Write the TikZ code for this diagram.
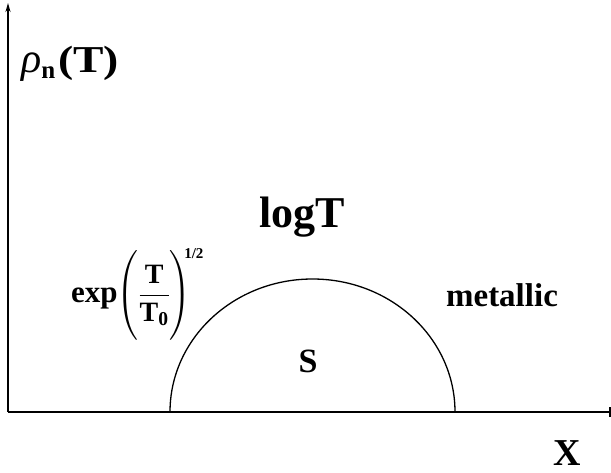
\RequirePackage{fix-cm}
\documentclass[tikz,border=0pt]{standalone}
\usepackage{amsmath}
\usepackage{fontspec}
\setmainfont{Liberation Serif}
\usepackage{tikz}
\usetikzlibrary{arrows.meta,positioning,calc}

\tikzset{
  txt/.style={inner sep=0pt,font=\bfseries},
  axis/.style={line width=1.8pt},
}

\begin{document}
\begin{tikzpicture}[x=1pt,y=-1pt]
\useasboundingbox (0,0) rectangle (611,472);
% axes
\coordinate (origin) at (8,412);
\coordinate (ytop) at (8,3);
\coordinate (xend) at (611,412);
\draw[axis,-{Stealth[length=9pt,width=5pt]}] (origin) -- (ytop);
\draw[axis] (origin) -- (xend);
\draw[line width=1.2pt] ($(xend)+(-1,-5)$) -- ($(xend)+(-1,5)$);
% superconducting dome
\coordinate (domeL) at (170,412);
\draw[line width=1.3pt] (domeL) arc[start angle=180,end angle=0,x radius=142.5,y radius=-133];
% labels
\node[txt,anchor=base west] (rho) at (21,72)
  {{\fontsize{42}{48}\selectfont\mdseries\itshape ρ}\raisebox{-6pt}{\fontsize{25}{30}\selectfont n}\hspace{3pt}\scalebox{1.2}[1]{\fontsize{38}{46}\selectfont(T)}};
\node[txt,anchor=base] (logT) at (302,227) {\fontsize{44}{50}\selectfont logT};
\node[txt,anchor=base] (metallic) at (502,306) {\fontsize{33}{38}\selectfont metallic};
\node[txt,anchor=base] (S) at (308,372) {\fontsize{34}{40}\selectfont S};
\node[txt,anchor=base] (X) at (567,465) {\fontsize{38}{44}\selectfont X};
\node[txt,anchor=base west] (exp) at (71,302)
  {\fontsize{31}{36}\selectfont exp\hspace{-1pt}\fontsize{28}{34}\selectfont$\left(\vphantom{\rule[-39pt]{0pt}{90pt}}\dfrac{\text{T}}{\text{T}_{\text{0}}}\right)\text{\hspace{-12pt}\raisebox{44pt}{\fontsize{15}{18}\selectfont 1/2}}$};
\end{tikzpicture}
\end{document}
